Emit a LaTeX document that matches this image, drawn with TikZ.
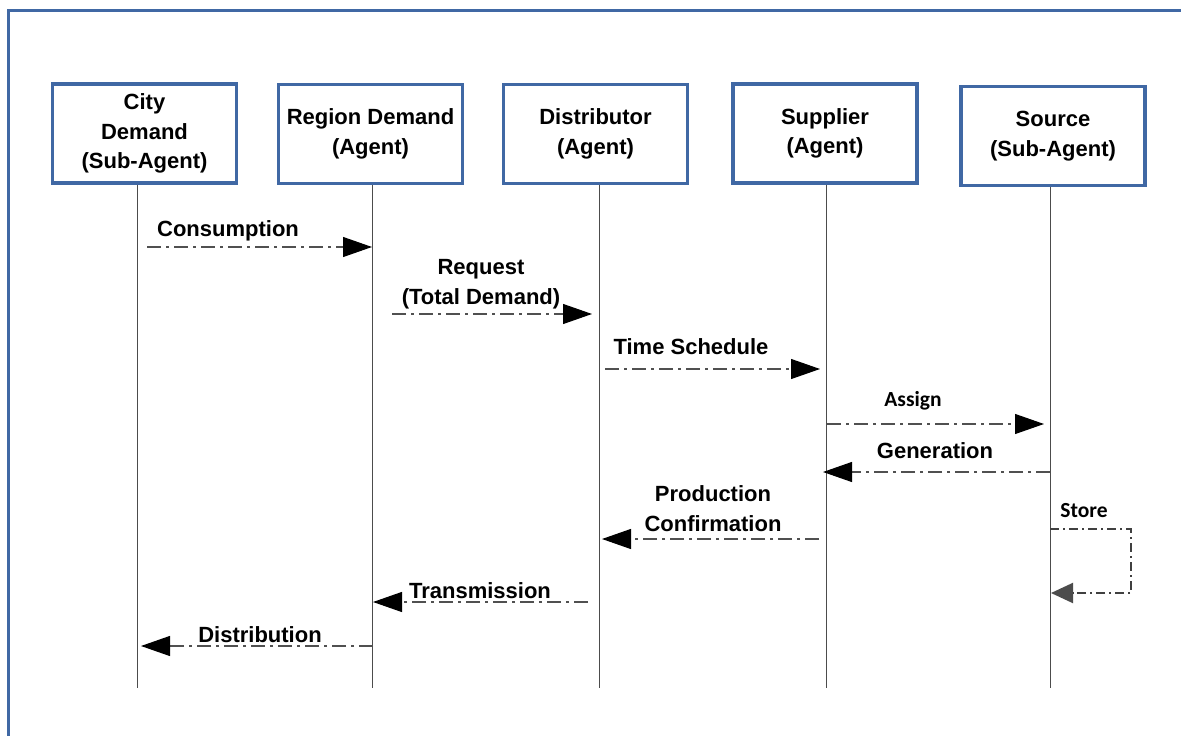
\documentclass[tikz,border=0pt]{standalone}
\usepackage{fontspec}
\setmainfont{Liberation Sans}
\newfontfamily\smallfont{Carlito}
\usetikzlibrary{arrows.meta}
\definecolor{frameblue}{RGB}{64,104,164}
\definecolor{msggray}{RGB}{80,80,80}
\begin{document}
\begin{tikzpicture}[x=1pt,y=-1pt,
  agentbox/.style={draw=frameblue, line width=3.5pt, minimum width=184pt, minimum height=99pt,
    inner sep=0pt, align=center, font=\fontsize{22}{29.5}\selectfont\bfseries},
  lifeline/.style={draw=black!70, line width=1pt},
  msg/.style={draw=msggray, line width=1.1pt, dash pattern=on 14pt off 5pt on 3pt off 5pt,
    -{Triangle[length=29pt,width=20pt,color=black]}},
  storemsg/.style={draw=black!75, line width=2pt, dash pattern=on 9pt off 4pt on 2pt off 4pt,
    -{Triangle[length=22pt,width=20pt,color=black!70]}},
  msglabel/.style={font=\fontsize{22}{30}\selectfont\bfseries, align=center, inner sep=0pt},
  smalllabel/.style={font=\fontsize{21.5}{26}\smallfont\bfseries, inner sep=0pt},
]
\useasboundingbox (0,0) rectangle (1181,736);
\fill[white] (0,0) rectangle (1181,736);

% frame
\draw[frameblue, line width=3pt] (8,736) -- (8,10) -- (1181,10);

% agents
\node[agentbox] (b1) at (144.5,133.5) {City\\Demand\\(Sub-Agent)};
\node[agentbox] (b2) at (370.5,134) {Region Demand\\(Agent)};
\node[agentbox] (b3) at (595.5,134) {Distributor\\(Agent)};
\node[agentbox] (b4) at (825,133.5) {Supplier\\(Agent)};
\node[agentbox] (b5) at (1053,136) {Source\\(Sub-Agent)};

% lifeline ends
\coordinate (e1) at (137,688);
\coordinate (e2) at (372,688);
\coordinate (e3) at (599,688);
\coordinate (e4) at (826,688);
\coordinate (e5) at (1050,688);
\draw[lifeline] (b1.south -| e1) -- (e1);
\draw[lifeline] (b2.south -| e2) -- (e2);
\draw[lifeline] (b3.south -| e3) -- (e3);
\draw[lifeline] (b4.south -| e4) -- (e4);
\draw[lifeline] (b5.south -| e5) -- (e5);

% message end points
\coordinate (m1a) at (147,247);  \coordinate (m1b) at (372,247);
\coordinate (m2a) at (392,314);  \coordinate (m2b) at (592,314);
\coordinate (m3a) at (605,369);  \coordinate (m3b) at (820,369);
\coordinate (m4a) at (827,424);  \coordinate (m4b) at (1044,424);
\coordinate (m5a) at (1050,472); \coordinate (m5b) at (823,472);
\coordinate (m6a) at (819,539);  \coordinate (m6b) at (602,539);
\coordinate (m7a) at (588,602);  \coordinate (m7b) at (373,602);
\coordinate (m8a) at (373,646);  \coordinate (m8b) at (141,646);
\coordinate (s1) at (1050,529);  \coordinate (s2) at (1131,529);
\coordinate (s3) at (1131,593);  \coordinate (s4) at (1051,593);

\draw[msg] (m1a) -- (m1b);
\draw[msg] (m2a) -- (m2b);
\draw[msg] (m3a) -- (m3b);
\draw[msg] (m4a) -- (m4b);
\draw[msg] (m5a) -- (m5b);
\draw[msg] (m6a) -- (m6b);
\draw[msg] (m7a) -- (m7b);
\draw[msg] (m8a) -- (m8b);
\draw[storemsg] (s1) -- (s2) -- (s3) -- (s4);

% labels
\node[msglabel] (l1) at (228,231) {Consumption};
\node[msglabel] (l2) at (481,284) {Request\\(Total Demand)};
\node[msglabel] (l3) at (691,347) {Time Schedule};
\node[smalllabel] (l4) at (913,401) {Assign};
\node[msglabel] (l5) at (935,451) {Generation};
\node[msglabel] (l6) at (713,508.5) {Production\\Confirmation};
\node[smalllabel] (l7) at (1084,511) {Store};
\node[msglabel] (l8) at (480,591) {Transmission};
\node[msglabel] (l9) at (260,635) {Distribution};
\end{tikzpicture}
\end{document}
